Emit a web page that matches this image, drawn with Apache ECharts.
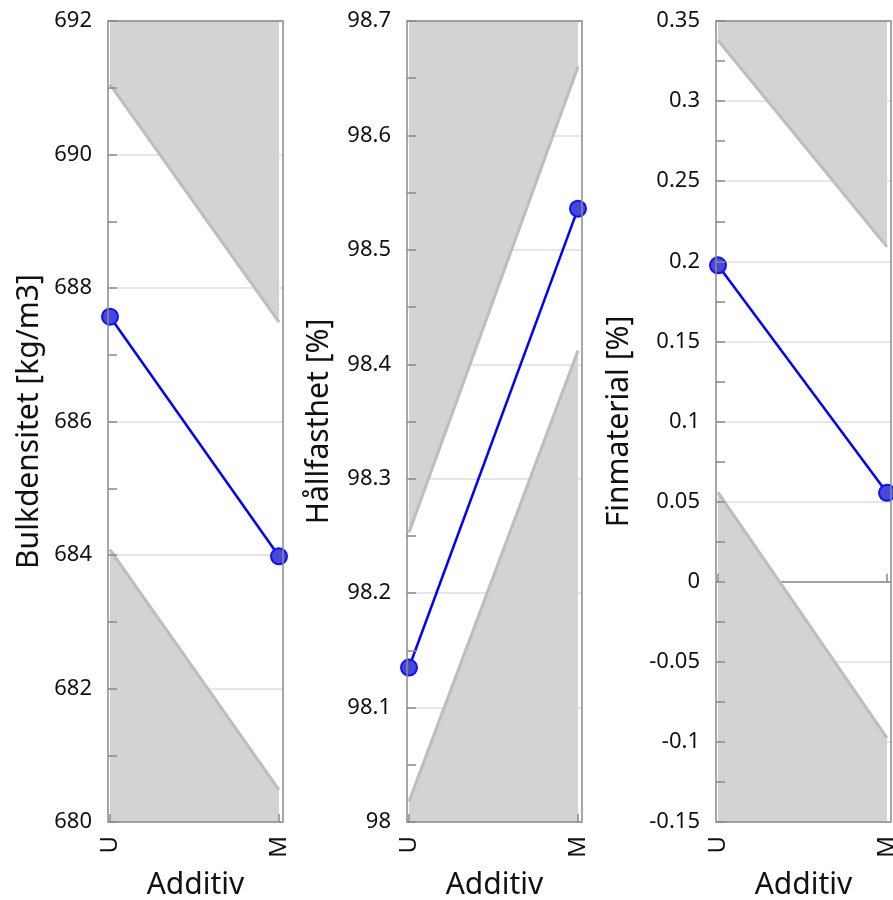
<!DOCTYPE html>
<html><head><meta charset="utf-8">
<script src="https://cdn.jsdelivr.net/npm/echarts@6/dist/echarts.min.js"></script>
<style>html,body{margin:0;padding:0;background:#fff}#c{width:893px;height:900px}</style>
</head><body><div id="c"></div><script>
const categories = ['U', 'M'];
const bulkMean  = [687.57, 683.98];
const bulkUpper = [691.05, 687.49];
const bulkLower = [684.08, 680.48];
const hallMean  = [98.135, 98.536];
const hallUpper = [98.253, 98.660];
const hallLower = [98.018, 98.412];
const finMean   = [0.1975, 0.0555];
const finUpper  = [0.338, 0.209];
const finLower  = [0.0558, -0.0975];
const yNames = ['Bulkdensitet [kg/m3]', 'Hållfasthet [%]', 'Finmaterial [%]'];
const xName = 'Additiv';
const yMin = [680, 98, -0.15];
const yMax = [692, 98.7, 0.35];
const yStep = [2, 0.1, 0.05];
const refLines = [null, null, 0];

const panels = [
  {mean: bulkMean, up: bulkUpper, lo: bulkLower},
  {mean: hallMean, up: hallUpper, lo: hallLower},
  {mean: finMean, up: finUpper, lo: finLower}
];
const lefts = [108, 407, 716];
const nameGaps = [64, 73, 82];
const FONT = 'Noto Sans';
const frameColor = '#8a8a8a';

const grid = [], xAxis = [], yAxis = [], series = [];
const toPts = arr => arr.map((v, i) => [i, v]);

panels.forEach((p, k) => {
  grid.push({left: lefts[k], top: 21, width: 175, height: 801, show: true, containLabel: false, outerBoundsMode: 'none',
    backgroundColor: 'rgba(0,0,0,0)', borderColor: frameColor, borderWidth: 1.5, z: 6});
  xAxis.push({type: 'value', gridIndex: k, position: 'bottom', min: -2/169, max: 1 + 4/169, z: 5,
    axisLine: {show: false},
    axisTick: {show: true, inside: true, length: 8, customValues: [0, 1], lineStyle: {color: frameColor, width: 1.5}},
    axisLabel: {show: true, customValues: [0, 1], rotate: 90, margin: 14, fontSize: 24, color: '#111', fontFamily: FONT,
      formatter: v => categories[Math.round(v)]},
    splitLine: {show: false},
    name: xName, nameLocation: 'middle', nameGap: 48,
    nameTextStyle: {fontSize: 30, color: '#111', fontFamily: FONT}
  });
  // grid-line axis (behind bands)
  yAxis.push({type: 'value', gridIndex: k, position: 'left', offset: 0, min: yMin[k], max: yMax[k], interval: yStep[k], z: 0,
    axisLine: {show: false}, axisTick: {show: false}, axisLabel: {show: false},
    splitLine: {show: true, lineStyle: {color: '#e6e6e6', width: 2}}});
  // visible axis (above bands)
  yAxis.push({type: 'value', gridIndex: k, position: 'left', offset: 0, min: yMin[k], max: yMax[k], interval: yStep[k], z: 5,
    axisLine: {show: false},
    axisTick: {show: true, inside: true, length: 9, lineStyle: {color: frameColor, width: 1.5}},
    minorTick: {show: true, splitNumber: 2, length: 9, lineStyle: {color: frameColor, width: 1.5}},
    axisLabel: {show: true, fontSize: 22, color: '#111', fontFamily: FONT, margin: 16, showMinLabel: true, showMaxLabel: true},
    splitLine: {show: false},
    name: yNames[k], nameLocation: 'middle', nameGap: nameGaps[k], nameMoveOverlap: false,
    nameTextStyle: {fontSize: 30, color: '#111', fontFamily: FONT}
  });
  const yi = k * 2 + 1;
  series.push({type: 'line', xAxisIndex: k, yAxisIndex: yi, data: toPts(p.up), symbol: 'none', silent: true, z: 2,
    lineStyle: {color: '#bdbdbd', width: 3}, areaStyle: {color: '#d3d3d3', opacity: 1, origin: 'end'}});
  series.push({type: 'line', xAxisIndex: k, yAxisIndex: yi, data: toPts(p.lo), symbol: 'none', silent: true, z: 2,
    lineStyle: {color: '#bdbdbd', width: 3}, areaStyle: {color: '#d3d3d3', opacity: 1, origin: 'start'}});
  if (refLines[k] !== null) {
    series.push({type: 'line', xAxisIndex: k, yAxisIndex: yi, data: [], z: 1, silent: true,
      markLine: {z: 1, silent: true, symbol: 'none', label: {show: false},
        lineStyle: {color: '#8a8a8a', width: 1.5, type: 'solid'}, data: [{yAxis: refLines[k]}]}});
  }
  series.push({type: 'line', xAxisIndex: k, yAxisIndex: yi, data: toPts(p.mean), z: 4, clip: false,
    symbol: 'circle', symbolSize: 16,
    lineStyle: {color: '#0000ff', width: 2.5},
    itemStyle: {color: '#4848d6', borderColor: '#1010ff', borderWidth: 2}});
});

const chart = echarts.init(document.getElementById('c'), null, {renderer: 'canvas'});
chart.setOption({animation: false, backgroundColor: '#fff', grid, xAxis, yAxis, series});
</script></body></html>
